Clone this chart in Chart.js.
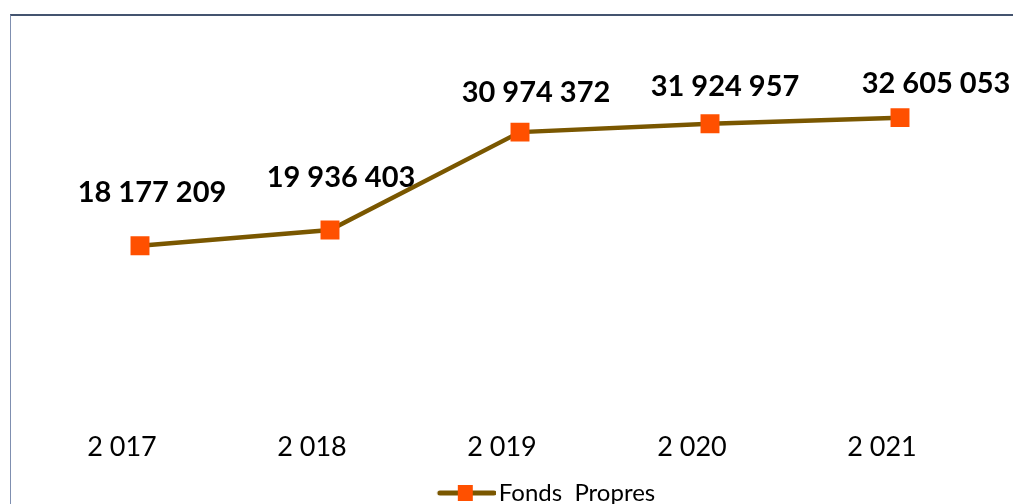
<!DOCTYPE html>
<html>
<head>
<meta charset="utf-8">
<script src="https://cdn.jsdelivr.net/npm/chart.js@4/dist/chart.umd.min.js"></script>
<style>
  html, body { margin: 0; padding: 0; background: #fff; overflow: hidden; }
  #wrap { position: relative; width: 1013px; height: 504px; }
  #frame {
    position: absolute; left: 10px; top: 14px; width: 1100px; height: 600px;
    border-left: 1px solid #7f8fb0; border-top: 2px solid #44546f;
    box-sizing: border-box;
  }
  #chart { position: absolute; left: 0; top: 0; }
</style>
</head>
<body>
<div id="wrap">
  <div id="frame"></div>
  <canvas id="chart" width="1013" height="504"></canvas>
</div>
<script>
// Fonds propres data
const years = ['2 017', '2 018', '2 019', '2 020', '2 021'];
const fondsPropres = [18177209, 19936403, 30974372, 31924957, 32605053];
const seriesName = 'Fonds  Propres';

const lineColor = '#7a5700';
const markerColor = '#ff5000';

// label nudges (x, y from the point), as placed in the original
const labelNudges = [[12, -53], [11, -52], [16, -39], [15, -37], [36, -34]];

function formatValue(v) {
    return String(v).replace(/\B(?=(\d{3})+(?!\d))/g, ' ');
}

// legend symbol: line with a square, blank space on the left to push the item right
const legendIcon = document.createElement('canvas');
legendIcon.width = 120;
legendIcon.height = 18;
(function() {
    const c = legendIcon.getContext('2d');
    c.strokeStyle = lineColor;
    c.lineWidth = 5;
    c.lineCap = 'round';
    c.beginPath();
    c.moveTo(64, 9);
    c.lineTo(118, 9);
    c.stroke();
    c.fillStyle = markerColor;
    c.fillRect(82, 1, 15, 16);
})();

// Data labels plugin
const valueLabels = {
    id: 'valueLabels',
    afterDatasetsDraw(chart) {
        const ctx = chart.ctx;
        const meta = chart.getDatasetMeta(0);
        ctx.save();
        ctx.font = 'bold 29px Lato, sans-serif';
        ctx.fillStyle = '#000';
        ctx.textAlign = 'center';
        ctx.textBaseline = 'middle';
        meta.data.forEach((pt, i) => {
            const n = labelNudges[i];
            ctx.fillText(formatValue(fondsPropres[i]), pt.x + n[0], pt.y + n[1]);
        });
        ctx.restore();
    }
};

const ctx = document.getElementById('chart').getContext('2d');
const chart = new Chart(ctx, {
    type: 'line',
    data: {
        labels: years,
        datasets: [{
            label: seriesName,
            data: fondsPropres,
            borderColor: lineColor,
            backgroundColor: markerColor,
            borderWidth: 4.5,
            tension: 0,
            pointStyle: 'rect',
            pointRadius: 13.4,
            pointBorderWidth: 0,
            pointBackgroundColor: markerColor,
            pointBorderColor: markerColor
        }]
    },
    options: {
        responsive: false,
        animation: false,
        layout: {
            padding: { left: 45, right: 18, top: 52, bottom: -11 }
        },
        plugins: {
            legend: {
                display: true,
                position: 'bottom',
                labels: {
                    usePointStyle: true,
                    pointStyleWidth: 102,
                    color: '#000',
                    font: { family: 'Lato, sans-serif', size: 24 },
                    padding: 0,
                    generateLabels: (c) => [{
                        text: seriesName,
                        pointStyle: legendIcon,
                        fillStyle: markerColor,
                        strokeStyle: lineColor,
                        lineWidth: 0,
                        datasetIndex: 0
                    }]
                }
            },
            tooltip: { enabled: false }
        },
        scales: {
            x: {
                offset: true,
                grid: { display: false, drawTicks: false },
                border: { display: false },
                afterFit: (scale) => { scale.height = 74; },
                ticks: {
                    color: '#000',
                    padding: 24,
                    labelOffset: -18,
                    font: { family: 'Lato, sans-serif', size: 27 }
                }
            },
            y: {
                display: false,
                min: 0,
                max: 40000000
            }
        }
    },
    plugins: [valueLabels]
});
</script>
</body>
</html>
